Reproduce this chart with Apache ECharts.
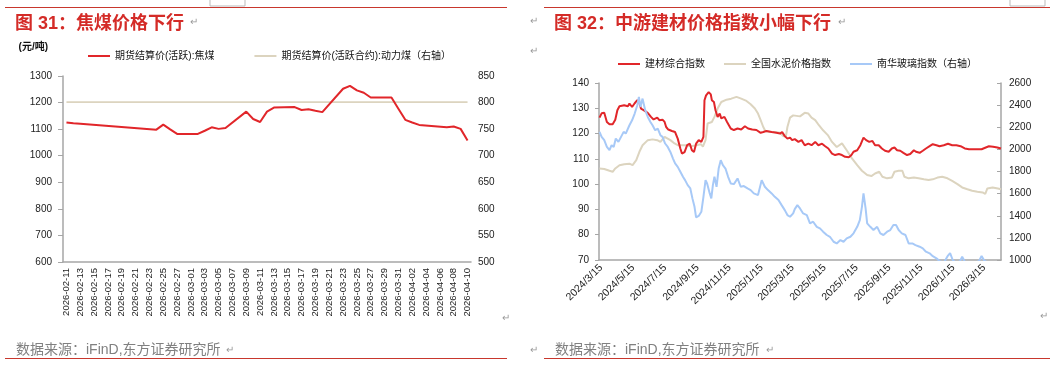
<!DOCTYPE html>
<html><head><meta charset="utf-8">
<script src="https://cdn.jsdelivr.net/npm/echarts@6/dist/echarts.min.js"></script>
<style>html,body{margin:0;padding:0;background:#fff}#c{width:1058px;height:374px}</style>
</head><body><div id="c"></div>
<script>
const FONT = "'Liberation Sans','Noto Sans CJK SC',sans-serif";

// ---------- Figure 31: coking coal futures ----------
const fig31Range = ['2026-02-11', '2026-04-10'];
const cokeDates = ['2026-02-11','2026-02-12','2026-02-13','2026-02-24','2026-02-25','2026-02-26','2026-02-27',
  '2026-03-02','2026-03-03','2026-03-04','2026-03-05','2026-03-06','2026-03-09','2026-03-10','2026-03-11',
  '2026-03-12','2026-03-13','2026-03-16','2026-03-17','2026-03-18','2026-03-19','2026-03-20','2026-03-23',
  '2026-03-24','2026-03-25','2026-03-26','2026-03-27','2026-03-30','2026-03-31','2026-04-01','2026-04-02',
  '2026-04-03','2026-04-07','2026-04-08','2026-04-09','2026-04-10'];
const cokingCoal = [1125,1122,1120,1098,1117,1099,1082,
  1082,1094,1107,1101,1104,1166,1138,1127,
  1166,1181,1183,1172,1175,1169,1164,1252,
  1263,1246,1237,1219,1219,1177,1135,1125,
  1116,1107,1110,1101,1057];
const thermalCoal = cokeDates.map(() => 801);
const fig31Left = {min: 600, max: 1300, interval: 100};
const fig31Right = {min: 500, max: 850, interval: 50};

// ---------- Figure 32: building materials ----------
const fig32Range = ['2024/3/11', '2026/4/16'];
const fig32TickLabels = ['2024/3/15','2024/5/15','2024/7/15','2024/9/15','2024/11/15','2025/1/15','2025/3/15',
  '2025/5/15','2025/7/15','2025/9/15','2025/11/15','2026/1/15','2026/3/15'];
const compositeDates = ['2024/3/12','2024/3/16','2024/3/21','2024/3/26','2024/3/31','2024/4/6','2024/4/11','2024/4/15',
  '2024/4/19','2024/4/28','2024/5/5','2024/5/8','2024/5/13','2024/5/18','2024/5/23','2024/5/27','2024/5/30','2024/6/4',
  '2024/6/9','2024/6/13','2024/6/18','2024/6/23','2024/6/30','2024/7/4','2024/7/7','2024/7/10','2024/7/14','2024/7/17',
  '2024/7/21','2024/7/28','2024/8/3','2024/8/8','2024/8/13','2024/8/16','2024/8/21','2024/8/26','2024/8/31','2024/9/4',
  '2024/9/8','2024/9/12','2024/9/17','2024/9/22','2024/9/26','2024/9/28','2024/10/1','2024/10/6','2024/10/10','2024/10/12',
  '2024/10/16','2024/10/19','2024/10/23','2024/10/27','2024/10/30','2024/11/5','2024/11/10','2024/11/17','2024/11/23',
  '2024/11/30','2024/12/7','2024/12/14','2024/12/20','2024/12/28','2025/1/5','2025/1/13','2025/1/18','2025/1/24',
  '2025/2/3','2025/2/12','2025/2/19','2025/2/23','2025/2/28','2025/3/5','2025/3/10','2025/3/14','2025/3/19','2025/3/26',
  '2025/4/1','2025/4/7','2025/4/14','2025/4/20','2025/4/27','2025/5/3','2025/5/10','2025/5/16','2025/5/22','2025/5/29',
  '2025/6/4','2025/6/11','2025/6/17','2025/6/23','2025/6/30','2025/7/5','2025/7/9','2025/7/16','2025/7/22','2025/7/28',
  '2025/8/2','2025/8/8','2025/8/14','2025/8/19','2025/8/26','2025/9/1','2025/9/7','2025/9/14','2025/9/20','2025/9/25',
  '2025/9/30','2025/10/6','2025/10/12','2025/10/19','2025/10/25','2025/11/1','2025/11/5','2025/11/12','2025/11/18',
  '2025/11/24','2025/12/1','2025/12/7','2025/12/14','2025/12/20','2025/12/28','2026/1/5','2026/1/13','2026/1/21',
  '2026/1/29','2026/2/6','2026/2/14','2026/2/22','2026/3/2','2026/3/10','2026/3/18','2026/3/24','2026/4/1','2026/4/9',
  '2026/4/16'];
const compositeIndex = [126.3,128.0,128.2,124.6,123.7,123.7,125.5,129.2,
  130.8,131.2,130.8,131.9,130.5,132.0,133.2,132.1,129.9,129.3,
  128.6,127.9,126.6,125.6,126.3,125.3,125.0,125.5,124.6,122.6,
  121.6,121.0,120.6,118.0,114.1,112.1,112.7,115.4,116.0,113.4,
  112.7,116.0,117.4,116.7,118.7,133.2,135.1,136.4,135.5,133.2,
  132.5,129.2,126.6,127.9,126.0,126.6,124.6,122.0,121.4,
  122.0,121.6,122.9,122.0,121.6,121.4,120.3,120.6,121.0,
  120.6,120.3,120.0,120.6,119.0,118.0,118.4,117.4,117.8,116.7,
  117.4,115.4,116.0,115.4,116.7,115.4,116.0,115.0,114.1,112.1,
  111.5,111.9,111.5,110.8,110.6,111.5,112.8,113.4,115.4,118.4,
  117.4,116.7,117.1,115.4,115.4,114.1,113.2,112.8,114.1,114.5,
  113.4,113.2,112.4,111.5,111.9,113.4,112.8,112.4,113.2,
  114.1,115.0,115.8,115.4,115.0,115.4,116.0,115.4,115.4,
  115.0,114.1,113.8,113.8,113.8,113.8,114.5,115.0,114.8,114.5,
  114.1];
const cementDates = ['2024/3/12','2024/3/21','2024/3/31','2024/4/6','2024/4/11','2024/4/19','2024/4/28','2024/5/8',
  '2024/5/14','2024/5/21','2024/5/27','2024/6/2','2024/6/12','2024/6/21','2024/6/30','2024/7/6','2024/7/14','2024/7/17',
  '2024/7/25','2024/8/2','2024/8/8','2024/8/16','2024/8/24','2024/9/3','2024/9/12','2024/9/21','2024/9/25','2024/9/30',
  '2024/10/4','2024/10/12','2024/10/17','2024/10/23','2024/10/30','2024/11/9','2024/11/18','2024/11/28','2024/12/7',
  '2024/12/17','2024/12/25','2025/1/2','2025/1/8','2025/1/13','2025/1/18','2025/1/22','2025/1/31','2025/2/9','2025/2/19',
  '2025/2/25','2025/3/2','2025/3/5','2025/3/10','2025/3/16','2025/3/29','2025/4/7','2025/4/14','2025/4/20','2025/4/27',
  '2025/5/4','2025/5/12','2025/5/21','2025/5/29','2025/6/7','2025/6/17','2025/6/26','2025/7/6','2025/7/16','2025/7/25',
  '2025/8/4','2025/8/12','2025/8/19','2025/8/27','2025/9/2','2025/9/11','2025/9/20','2025/9/25','2025/10/3','2025/10/10',
  '2025/10/14','2025/10/22','2025/11/1','2025/11/10','2025/11/20','2025/11/29','2025/12/7','2025/12/16','2025/12/25',
  '2026/1/4','2026/1/13','2026/1/23','2026/2/1','2026/2/11','2026/2/20','2026/3/2','2026/3/12','2026/3/17','2026/3/21',
  '2026/3/31','2026/4/10','2026/4/16'];
const cementIndex = [106.2,106.0,105.3,104.9,106.2,107.5,107.9,108.1,
  107.5,109.5,112.8,115.4,117.4,117.7,117.4,116.7,118.7,118.4,
  117.4,116.1,115.4,115.4,115.4,115.0,115.4,115.8,114.8,117.4,
  124.0,124.6,126.6,129.9,132.5,133.4,133.8,134.5,133.8,
  132.9,131.6,129.9,127.9,125.3,122.6,121.0,120.6,120.6,120.3,
  119.0,118.7,122.6,126.3,127.2,126.8,128.2,127.9,126.3,125.3,
  123.3,121.3,119.4,116.7,114.7,116.1,113.4,110.2,107.5,105.3,
  103.6,103.2,104.2,104.9,102.9,102.3,102.6,104.9,105.3,105.3,
  102.9,102.3,102.6,102.3,101.9,101.6,101.9,102.6,102.9,
  102.3,101.3,100.0,98.7,98.0,97.4,97.0,96.7,96.1,98.3,
  98.7,98.3,98.0];
const glassDates = ['2024/3/12','2024/3/16','2024/3/21','2024/3/26','2024/3/31','2024/4/4','2024/4/8','2024/4/12',
  '2024/4/17','2024/4/22','2024/4/27','2024/5/1','2024/5/8','2024/5/13','2024/5/18','2024/5/23','2024/5/26','2024/5/29',
  '2024/6/2','2024/6/7','2024/6/12','2024/6/17','2024/6/21','2024/6/26','2024/7/1','2024/7/6','2024/7/10','2024/7/15',
  '2024/7/20','2024/7/25','2024/7/30','2024/8/3','2024/8/8','2024/8/13','2024/8/18','2024/8/22','2024/8/27','2024/9/1',
  '2024/9/5','2024/9/9','2024/9/12','2024/9/17','2024/9/22','2024/9/26','2024/9/30','2024/10/3','2024/10/8','2024/10/11',
  '2024/10/14','2024/10/17','2024/10/21','2024/10/25','2024/10/29','2024/11/2','2024/11/7','2024/11/12','2024/11/17',
  '2024/11/23','2024/11/30','2024/12/6','2024/12/12','2024/12/19','2024/12/25','2024/12/31','2025/1/8','2025/1/15',
  '2025/1/21','2025/1/27','2025/2/3','2025/2/9','2025/2/16','2025/2/22','2025/2/28','2025/3/5','2025/3/10','2025/3/16',
  '2025/3/19','2025/3/24','2025/3/29','2025/4/4','2025/4/11','2025/4/17','2025/4/23','2025/4/30','2025/5/6','2025/5/12',
  '2025/5/19','2025/5/25','2025/6/1','2025/6/7','2025/6/14','2025/6/20','2025/6/26','2025/7/3','2025/7/9','2025/7/16',
  '2025/7/21','2025/7/25','2025/7/28','2025/8/1','2025/8/4','2025/8/10','2025/8/16','2025/8/23','2025/8/29','2025/9/4',
  '2025/9/11','2025/9/17','2025/9/23','2025/9/28','2025/10/3','2025/10/9','2025/10/16','2025/10/22','2025/10/29',
  '2025/11/4','2025/11/12','2025/11/18','2025/11/24','2025/12/1','2025/12/7','2025/12/14','2025/12/20','2025/12/28',
  '2026/1/5','2026/1/9','2026/1/14','2026/1/21','2026/1/28','2026/2/1','2026/2/6','2026/2/15','2026/2/25','2026/3/5',
  '2026/3/10','2026/3/15','2026/3/24','2026/4/3','2026/4/16'];
const glassIndex = [2158,2113,2083,2022,1993,2038,2022,2098,
  2068,2113,2158,2143,2218,2263,2324,2399,2474,2384,
  2459,2354,2293,2248,2218,2173,2188,2128,2113,2053,
  2022,1977,1917,1873,1842,1797,1752,1722,1677,1647,
  1557,1481,1385,1398,1436,1571,1722,1692,1602,1557,
  1677,1752,1662,1827,1902,1857,1827,1752,1692,
  1686,1737,1662,1668,1647,1632,1602,1587,1722,
  1662,1632,1602,1571,1542,1496,1451,1406,1391,1421,
  1460,1496,1466,1421,1406,1331,1346,1300,1286,1256,
  1226,1210,1165,1150,1180,1165,1195,1210,1241,1300,
  1361,1481,1602,1466,1331,1300,1271,1300,1241,1226,
  1256,1271,1316,1316,1271,1241,1226,1150,1150,
  1135,1120,1105,1075,1060,1035,1015,990,975,
  1040,1062,1000,970,990,1030,985,970,975,990,
  1036,995,970,965,960];
const fig32Left = {min: 70, max: 140, interval: 10};
const fig32Right = {min: 1000, max: 2600, interval: 200};

// ---------- helpers ----------
function parseD(s) { const p = s.split(/[-\/]/).map(Number); return Date.UTC(p[0], p[1]-1, p[2]); }
function dayList(start, end, fmt) {
  const out = [];
  for (let t = parseD(start); t <= parseD(end); t += 86400000) {
    const d = new Date(t), y = d.getUTCFullYear(), m = d.getUTCMonth()+1, dd = d.getUTCDate();
    out.push(fmt === 'dash' ? y + '-' + String(m).padStart(2,'0') + '-' + String(dd).padStart(2,'0') : y + '/' + m + '/' + dd);
  }
  return out;
}
const zip = (a, b) => a.map((x, i) => [x, b[i]]);
const plain = v => String(v);

const fig31Cats = dayList(fig31Range[0], fig31Range[1], 'dash');
const fig32Cats = dayList(fig32Range[0], fig32Range[1], 'slash');

const RED = '#E1262A', TAN = '#DCD4BF', BLUE = '#A7C9F7', TITLE_RED = '#D42B27', AXIS = '#A6A6A6', LBL = '#222';
const PARA = (x, y) => ({type: 'text', x: x, y: y, style: {text: '↵', fill: '#999', font: '10px ' + FONT}});

const chart = echarts.init(document.getElementById('c'), null, {renderer: 'canvas'});
chart.setOption({
  animation: false,
  backgroundColor: '#fff',
  textStyle: {fontFamily: FONT},
  title: [
    {text: '图 31：焦煤价格下行', left: 15, top: 15, padding: 0, textStyle: {color: TITLE_RED, fontSize: 18, fontWeight: 'bold', fontFamily: FONT}},
    {text: '图 32：中游建材价格指数小幅下行', left: 554, top: 15, padding: 0, textStyle: {color: TITLE_RED, fontSize: 18, fontWeight: 'bold', fontFamily: FONT}},
    {text: '数据来源：iFinD,东方证券研究所', left: 16, top: 343, padding: 0, textStyle: {color: '#808080', fontSize: 14, fontWeight: 'normal', fontFamily: FONT}},
    {text: '数据来源：iFinD,东方证券研究所', left: 555, top: 343, padding: 0, textStyle: {color: '#808080', fontSize: 14, fontWeight: 'normal', fontFamily: FONT}}
  ],
  legend: [
    {left: 88, top: 51, padding: 0, itemWidth: 22, itemHeight: 2, itemGap: 40, icon: 'rect',
     textStyle: {fontSize: 10, color: '#111', fontFamily: FONT},
     data: ['期货结算价(活跃):焦煤', '期货结算价(活跃合约):动力煤（右轴）']},
    {left: 618, top: 59, padding: 0, itemWidth: 22, itemHeight: 2, itemGap: 19, icon: 'rect',
     textStyle: {fontSize: 10, color: '#111', fontFamily: FONT},
     data: ['建材综合指数', '全国水泥价格指数', '南华玻璃指数（右轴）']}
  ],
  grid: [
    {left: 63, top: 76, width: 408, height: 186},
    {left: 599, top: 83, width: 402, height: 177}
  ],
  xAxis: [
    {type: 'category', gridIndex: 0, data: fig31Cats, boundaryGap: true,
     axisLine: {lineStyle: {color: AXIS, width: 1.5}},
     axisTick: {interval: 1, length: 4, lineStyle: {color: AXIS}},
     axisLabel: {interval: 1, rotate: 90, fontSize: 9.5, color: LBL, margin: 6}},
    {type: 'category', gridIndex: 1, data: fig32Cats, boundaryGap: false,
     axisLine: {lineStyle: {color: AXIS, width: 1.5}},
     axisTick: {show: false},
     axisLabel: {interval: (i, v) => fig32TickLabels.indexOf(v) >= 0, rotate: 45, fontSize: 10.5, color: LBL, margin: 6}}
  ],
  yAxis: [
    {type: 'value', gridIndex: 0, position: 'left', min: fig31Left.min, max: fig31Left.max, interval: fig31Left.interval,
     name: '(元/吨)', nameLocation: 'end', nameGap: 24,
     nameTextStyle: {align: 'right', padding: [0, 15, 0, 0], fontSize: 10, fontWeight: 'bold', color: '#111'},
     axisLine: {show: true, lineStyle: {color: AXIS, width: 1.5}},
     axisTick: {show: true, length: 5, lineStyle: {color: AXIS}},
     splitLine: {show: false},
     axisLabel: {fontSize: 10, color: LBL, margin: 11, formatter: plain}},
    {type: 'value', gridIndex: 0, position: 'right', min: fig31Right.min, max: fig31Right.max, interval: fig31Right.interval,
     axisLine: {show: false}, axisTick: {show: false}, splitLine: {show: false},
     axisLabel: {fontSize: 10, color: LBL, margin: 7, formatter: plain}},
    {type: 'value', gridIndex: 1, position: 'left', min: fig32Left.min, max: fig32Left.max, interval: fig32Left.interval,
     axisLine: {show: true, lineStyle: {color: AXIS, width: 1.5}},
     axisTick: {show: true, length: 4, lineStyle: {color: AXIS}},
     splitLine: {show: false},
     axisLabel: {fontSize: 10, color: LBL, margin: 10, formatter: plain}},
    {type: 'value', gridIndex: 1, position: 'right', min: fig32Right.min, max: fig32Right.max, interval: fig32Right.interval,
     axisLine: {show: true, lineStyle: {color: AXIS, width: 1.5}},
     axisTick: {show: true, inside: true, length: 4, lineStyle: {color: AXIS}},
     splitLine: {show: false},
     axisLabel: {fontSize: 10, color: LBL, margin: 8, formatter: plain}}
  ],
  series: [
    {name: '期货结算价(活跃):焦煤', type: 'line', xAxisIndex: 0, yAxisIndex: 0, data: zip(cokeDates, cokingCoal),
     symbol: 'none', itemStyle: {color: RED}, lineStyle: {color: RED, width: 2}, z: 3},
    {name: '期货结算价(活跃合约):动力煤（右轴）', type: 'line', xAxisIndex: 0, yAxisIndex: 1, data: zip(cokeDates, thermalCoal),
     symbol: 'none', itemStyle: {color: TAN}, lineStyle: {color: TAN, width: 1.8}, z: 2},
    {name: '建材综合指数', type: 'line', xAxisIndex: 1, yAxisIndex: 2, data: zip(compositeDates, compositeIndex),
     symbol: 'none', itemStyle: {color: RED}, lineStyle: {color: RED, width: 2}, z: 3},
    {name: '全国水泥价格指数', type: 'line', xAxisIndex: 1, yAxisIndex: 2, data: zip(cementDates, cementIndex),
     symbol: 'none', itemStyle: {color: TAN}, lineStyle: {color: TAN, width: 2}, z: 2},
    {name: '南华玻璃指数（右轴）', type: 'line', xAxisIndex: 1, yAxisIndex: 3, data: zip(glassDates, glassIndex),
     symbol: 'none', clip: true, itemStyle: {color: BLUE}, lineStyle: {color: BLUE, width: 2}, z: 4}
  ],
  graphic: [
    {type: 'line', shape: {x1: 5, y1: 7.5, x2: 507, y2: 7.5}, style: {stroke: '#C8372D', lineWidth: 1}},
    {type: 'line', shape: {x1: 544, y1: 7.5, x2: 1050, y2: 7.5}, style: {stroke: '#C8372D', lineWidth: 1}},
    {type: 'line', shape: {x1: 5, y1: 358.5, x2: 507, y2: 358.5}, style: {stroke: '#C8372D', lineWidth: 1}},
    {type: 'line', shape: {x1: 544, y1: 358.5, x2: 1050, y2: 358.5}, style: {stroke: '#C8372D', lineWidth: 1}},
    {type: 'rect', shape: {x: 210, y: -1, width: 35, height: 7}, style: {fill: 'none', stroke: '#BBB', lineWidth: 1}},
    {type: 'rect', shape: {x: 1010, y: -1, width: 35, height: 7}, style: {fill: 'none', stroke: '#BBB', lineWidth: 1}},
    PARA(190, 17), PARA(838, 17), PARA(530, 16), PARA(530, 46), PARA(502, 313),
    PARA(1040, 311), PARA(226, 345), PARA(766, 345), PARA(530, 345)
  ]
});
</script>
</body></html>
